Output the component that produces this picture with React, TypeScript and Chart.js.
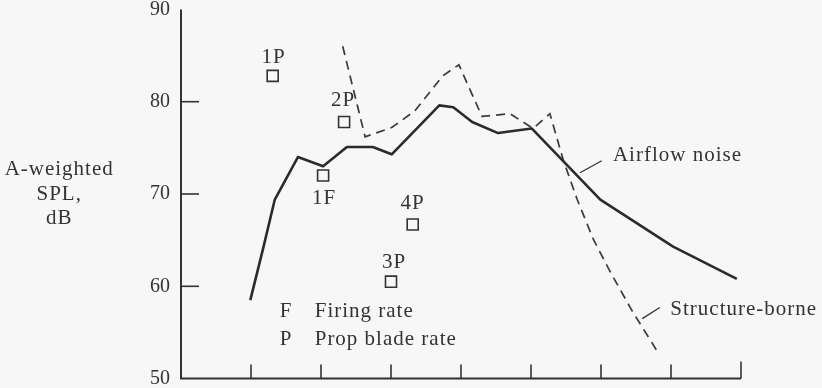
import React, { useEffect, useRef } from "react";
import { Chart, registerables } from "chart.js";

Chart.register(...registerables);

// Airflow noise (solid)
const airflowX = [0.99, 1.17, 1.34, 1.67, 2.03, 2.37, 2.74, 3.01, 3.69, 3.89, 4.16, 4.53, 5.01, 5.99, 7.03, 7.94];
const airflowY = [58.5, 64.0, 69.4, 74.0, 73.0, 75.1, 75.1, 74.3, 79.6, 79.4, 77.8, 76.6, 77.1, 69.4, 64.3, 60.8];
// Structure-borne (dashed)
const structureX = [2.31, 2.63, 3.01, 3.34, 3.74, 3.97, 4.3, 4.7, 5.03, 5.27, 5.46, 5.66, 5.89, 6.13, 6.44, 6.8];
const structureY = [86.0, 76.2, 77.2, 79.0, 82.8, 84.0, 78.4, 78.7, 77.1, 78.7, 73.7, 69.4, 65.1, 61.6, 57.4, 53.0];
// Harmonic markers
const markerLabels = ["1P", "2P", "1F", "4P", "3P"];
const markerX = [1.31, 2.33, 2.03, 3.31, 3.0];
const markerY = [82.8, 77.8, 72.0, 66.7, 60.5];
// Axes
const yTickValues = [50, 60, 70, 80, 90];
const xTickValues = [1, 2, 3, 4, 5, 6, 7, 8];
const yTitleLines = ["A-weighted", "SPL,", "dB"];
const legendKeys = ["F", "P"];
const legendTexts = ["Firing rate", "Prop blade rate"];

// label placement (pixels relative to marker)
const markerLabelDx = [1, -1, 1, 0, 3];
const markerLabelDy = [-18, -22, 23, -21, -19];

const INK = "#333333";
const FAMILY = '"Liberation Serif", "Times New Roman", serif';
const FONT = `21px ${FAMILY}`;

const overlayPlugin = {
  id: "overlay",
  beforeDraw(chart: any) {
    const { ctx, width, height } = chart;
    ctx.save();
    ctx.fillStyle = "#f7f7f7";
    ctx.fillRect(0, 0, width, height);
    ctx.restore();
  },
  afterDraw(chart: any) {
    const { ctx } = chart;
    const xs = chart.scales.x;
    const ys = chart.scales.y;
    const px = (v: number) => xs.getPixelForValue(v);
    const py = (v: number) => ys.getPixelForValue(v);
    ctx.save();
    ctx.strokeStyle = INK;
    ctx.lineWidth = 2;
    ctx.lineCap = "butt";
    // axes
    const x0 = px(0);
    const xEnd = px(xTickValues[xTickValues.length - 1]);
    const yTop = py(yTickValues[yTickValues.length - 1]);
    const yBot = py(yTickValues[0]);
    ctx.beginPath();
    ctx.moveTo(x0, yTop);
    ctx.lineTo(x0, yBot);
    ctx.lineTo(xEnd, yBot);
    ctx.stroke();
    // y ticks (inward)
    ctx.lineWidth = 1.6;
    yTickValues.slice(1, -1).forEach((v) => {
      ctx.beginPath();
      ctx.moveTo(x0, py(v));
      ctx.lineTo(x0 + 18, py(v));
      ctx.stroke();
    });
    // x ticks (inward)
    xTickValues.forEach((v, i) => {
      const len = i === xTickValues.length - 1 ? 17 : 14;
      ctx.beginPath();
      ctx.moveTo(px(v), yBot);
      ctx.lineTo(px(v), yBot - len);
      ctx.stroke();
    });

    ctx.fillStyle = INK;
    ctx.font = FONT;
    try { (ctx as any).letterSpacing = "1px"; } catch (e) {}
    ctx.textBaseline = "middle";
    // y title
    ctx.textAlign = "center";
    const titleY = [72.7, 69.9, 67.3];
    yTitleLines.forEach((t, i) => ctx.fillText(t, px(-1.74), py(titleY[i])));
    // marker labels
    markerLabels.forEach((t, i) => {
      ctx.fillText(t, px(markerX[i]) + markerLabelDx[i], py(markerY[i]) + markerLabelDy[i]);
    });
    // legend
    const legendY = [57.3, 54.2];
    legendKeys.forEach((k, i) => {
      ctx.textAlign = "center";
      ctx.fillText(k, px(1.5), py(legendY[i]));
      ctx.textAlign = "left";
      ctx.fillText(legendTexts[i], px(1.91), py(legendY[i]));
    });
    // curve labels and leaders
    ctx.textAlign = "left";
    ctx.fillText("Airflow noise", px(6.17), py(74.2));
    ctx.fillText("Structure-borne", px(6.99), py(57.5));
    ctx.lineWidth = 1.3;
    ctx.beginPath();
    ctx.moveTo(px(5.7), py(72.3));
    ctx.lineTo(px(6.01), py(73.6));
    ctx.moveTo(px(6.59), py(56.5));
    ctx.lineTo(px(6.84), py(57.7));
    ctx.stroke();
    ctx.restore();
  },
};

export default function App() {
  const ref = useRef<HTMLCanvasElement | null>(null);
  useEffect(() => {
    document.body.style.margin = "0";
    document.body.style.background = "#f7f7f7";
    const canvas = ref.current;
    if (!canvas) return;
    const chart = new Chart(canvas, {
      type: "scatter",
      data: {
        datasets: [
          {
            label: "Airflow noise",
            data: airflowX.map((x, i) => ({ x, y: airflowY[i] })),
            showLine: true,
            borderColor: "#2b2b2b",
            borderWidth: 2.6,
            pointRadius: 0,
            tension: 0,
            borderJoinStyle: "round",
          },
          {
            label: "Structure-borne",
            data: structureX.map((x, i) => ({ x, y: structureY[i] })),
            showLine: true,
            borderColor: "#3a3a3a",
            borderWidth: 1.7,
            borderDash: [9, 6],
            pointRadius: 0,
            tension: 0,
          },
          {
            label: "Harmonics",
            data: markerX.map((x, i) => ({ x, y: markerY[i] })),
            showLine: false,
            pointStyle: "rect",
            pointRadius: 7.8,
            pointBorderWidth: 1.6,
            pointBorderColor: INK,
            pointBackgroundColor: "rgba(0,0,0,0)",
          },
        ],
      },
      options: {
        animation: false,
        responsive: false,
        devicePixelRatio: 1,
        layout: { padding: { top: 8, bottom: 7, left: 0, right: 81 } },
        plugins: { legend: { display: false }, tooltip: { enabled: false } },
        scales: {
          x: {
            type: "linear",
            display: false,
            min: 0,
            max: 8,
          },
          y: {
            type: "linear",
            min: 50,
            max: 90,
            grid: { display: false, drawTicks: false },
            border: { display: false },
            ticks: {
              stepSize: 10,
              padding: 11,
              color: INK,
              font: { family: FAMILY, size: 20 },
            },
            afterFit(scale: any) {
              scale.width = 181;
              scale.paddingTop = 0;
              scale.paddingBottom = 0;
            },
          },
        },
      },
      plugins: [overlayPlugin],
    } as any);
    return () => chart.destroy();
  }, []);
  return (
    <div style={{ position: "fixed", left: 0, top: 0, width: 822, height: 388 }}>
      <canvas ref={ref} width={822} height={388} />
    </div>
  );
}
